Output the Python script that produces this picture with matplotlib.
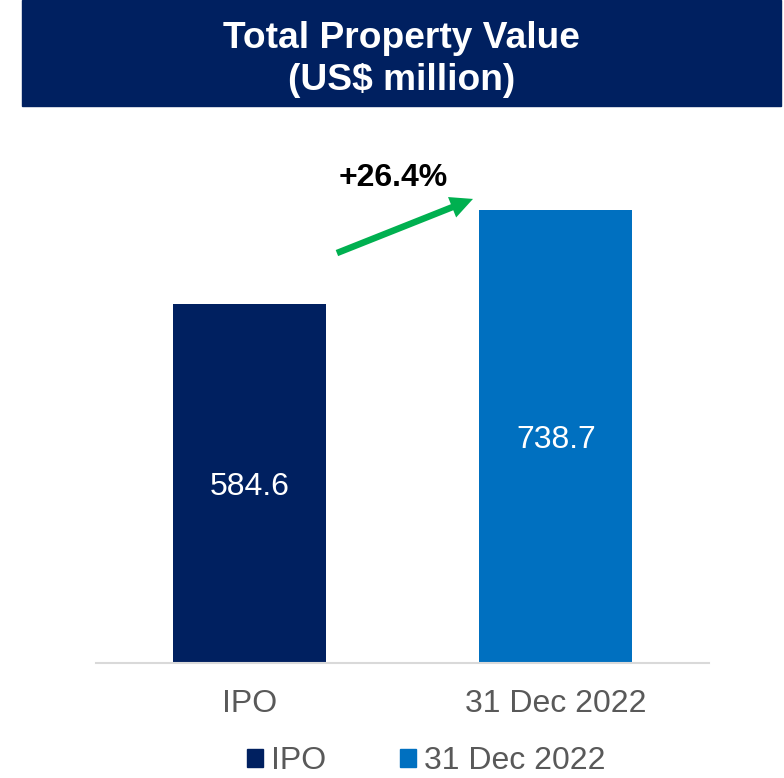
import matplotlib
matplotlib.use("Agg")
import matplotlib.pyplot as plt
from matplotlib.patches import Rectangle, Patch

plt.rcParams['font.family'] = ['Liberation Sans', 'DejaVu Sans']

# data
categories = ["IPO", "31 Dec 2022"]
values = [584.6, 738.7]
bar_colors = ["#002060", "#0070C0"]
title_lines = ["Total Property Value", "(US$ million)"]

W, H = 784, 778
fig = plt.figure(figsize=(W / 100, H / 100), dpi=100)

# title banner
fig.patches.append(Rectangle((22 / W, 1 - 106 / H), (781 - 22) / W, 106 / H,
                             transform=fig.transFigure, color="#002060", zorder=0))
fig.text(401.5 / W, 1 - 48 / H, title_lines[0], color="white", fontsize=26.7,
         fontweight="bold", ha="center", va="baseline")
fig.text(401.5 / W, 1 - 90 / H, title_lines[1], color="white", fontsize=26.7,
         fontweight="bold", ha="center", va="baseline")

# bar axes
ax = fig.add_axes([96 / W, 1 - 663 / H, (709 - 96) / W, (663 - 150) / H])
x = range(len(categories))
bars = ax.bar(x, values, width=0.5, color=bar_colors)
ax.set_xlim(-0.5, 1.5)
ax.set_ylim(0, (663 - 150) / 0.6135)

for b, v in zip(bars, values):
    ax.text(b.get_x() + b.get_width() / 2, v / 2, f"{v:.1f}", color="white",
            fontsize=23, ha="center", va="center_baseline")

for s in ["top", "right", "left"]:
    ax.spines[s].set_visible(False)
ax.spines["bottom"].set_color("#D9D9D9")
ax.spines["bottom"].set_linewidth(1.5)
ax.set_yticks([])
ax.set_xticks(list(x))
ax.set_xticklabels(categories, fontsize=23, color="#595959")
ax.tick_params(axis="x", length=0, pad=19)

# growth arrow
growth = (values[1] / values[0] - 1) * 100
ax.annotate("", xy=(0.73, values[1] * 1.024), xytext=(0.286, values[0] * 1.143),
            arrowprops=dict(arrowstyle="simple,head_length=0.81,head_width=0.79,tail_width=0.235",
                            mutation_scale=20, color="#00B050", lw=0,
                            shrinkA=0, shrinkB=0))
ax.text(0.47, 777.5, f"+{growth:.1f}%", fontsize=23, fontweight="bold",
        color="black", ha="center", va="baseline")

# legend
handles = [Patch(color=c, label=l) for c, l in zip(bar_colors, categories)]
leg = fig.legend(handles=handles, loc="center", bbox_to_anchor=(426 / W, 1 - 761 / H),
                 ncol=2, frameon=False, fontsize=23, handlelength=0.5, handleheight=0.5,
                 handletextpad=0.25, columnspacing=2.3, borderpad=0, borderaxespad=0)
for t in leg.get_texts():
    t.set_color("#595959")

fig.savefig("out.png", dpi=100)
